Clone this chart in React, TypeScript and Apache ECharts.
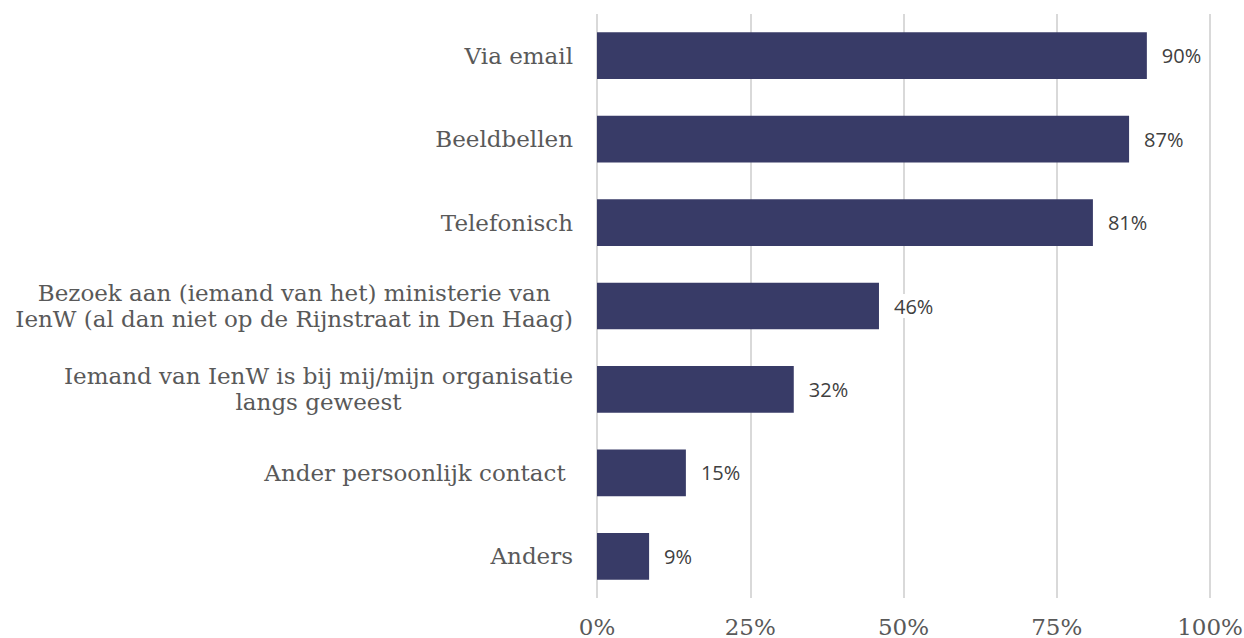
import React, { useEffect, useRef } from "react";
import * as echarts from "echarts";

const categories = [
  "Via email",
  "Beeldbellen",
  "Telefonisch",
  "Bezoek aan (iemand van het) ministerie van\nIenW (al dan niet op de Rijnstraat in Den Haag)",
  "Iemand van IenW is bij mij/mijn organisatie\nlangs geweest",
  "Ander persoonlijk contact ",
  "Anders",
];
const values = [89.7, 86.8, 80.9, 46.0, 32.1, 14.5, 8.5];
const valueLabels = ["90%", "87%", "81%", "46%", "32%", "15%", "9%"];
const axisTicks = [0, 25, 50, 75, 100];

export default function App() {
  const ref = useRef<HTMLDivElement>(null);
  useEffect(() => {
    if (!ref.current) return;
    const chart = echarts.init(ref.current, undefined, { renderer: "svg" });
    const cats = [...categories].reverse();
    const vals = [...values].reverse();
    const labs = [...valueLabels].reverse();
    chart.setOption({
      animation: false,
      grid: {
        left: 597,
        right: 34,
        top: 14,
        bottom: 40,
        containLabel: false,
        outerBoundsMode: "none",
      },
      xAxis: {
        type: "value",
        min: axisTicks[0],
        max: axisTicks[axisTicks.length - 1],
        interval: 25,
        axisLine: { show: false },
        axisTick: { show: false },
        splitLine: { show: true, lineStyle: { color: "#d9d9d9", width: 2 } },
        axisLabel: {
          formatter: (v: number) => v + "%",
          fontFamily: "DejaVu Serif",
          fontSize: 23,
          lineHeight: 23,
          color: "#595959",
          margin: 17,
        },
      },
      yAxis: {
        type: "category",
        data: cats,
        axisLine: { show: false },
        axisTick: { show: false },
        axisLabel: {
          margin: 24,
          fontFamily: "DejaVu Serif",
          fontSize: 23,
          color: "#595959",
          lineHeight: 26,
          formatter: (v: string) =>
            v
              .split("\n")
              .map((l) => "{c|" + l + "}")
              .join("\n"),
          rich: {
            c: {
              align: "center",
              fontFamily: "DejaVu Serif",
              fontSize: 23,
              color: "#595959",
              lineHeight: 26,
            },
          },
        },
      },
      series: [
        {
          type: "bar",
          data: vals,
          barWidth: "56%",
          itemStyle: { color: "#383b67" },
          label: {
            show: true,
            position: "right",
            distance: 10,
            formatter: (p: any) => labs[p.dataIndex],
            fontFamily: "Open Sans",
            fontSize: 20,
            color: "#404040",
            backgroundColor: "#ffffff",
            padding: [2, 5],
          },
        },
      ],
    });
    return () => chart.dispose();
  }, []);
  return <div ref={ref} style={{ width: 1244, height: 638, position: "absolute", left: 0, top: 0 }} />;
}
